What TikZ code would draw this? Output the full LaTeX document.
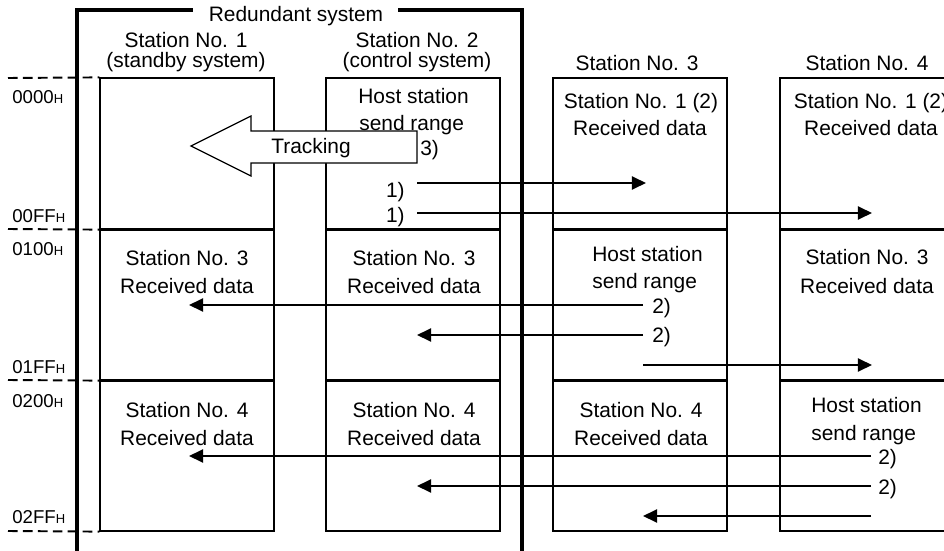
\documentclass[tikz,border=0pt]{standalone}
\usepackage{fontspec}
\setmainfont{Liberation Sans}
\usetikzlibrary{arrows.meta}
\newcommand\hexH{{\fontsize{7.4}{8}\selectfont H}}
\begin{document}
\begin{tikzpicture}[x=0.02cm,y=-0.02cm,
 cell/.style={draw,line width=0.7pt,rectangle,inner sep=0pt,minimum width=3.48cm,minimum height=3.02cm},
 sepline/.style={line width=1.2pt},
 framel/.style={line width=2.4pt},
 dashln/.style={line width=1.1pt,dash pattern=on 5.5pt off 3pt},
 txt/.style={inner sep=0pt,anchor=base,font=\fontsize{11.9}{14}\selectfont},
 ltxt/.style={txt,anchor=base west},
 rtxt/.style={txt,anchor=base east},
 hex/.style={inner sep=0pt,anchor=base west,font=\fontsize{10.6}{12}\selectfont},
 arr/.style={line width=1.2pt,-{Triangle[length=8pt,width=7.4pt]}},
 track/.style={draw,fill=white,line width=0.7pt}]
\useasboundingbox (0,0) rectangle (944,551);
\clip (0,0) rectangle (944,551);

% cells
\node[cell] (c11) at (187,153.5) {};
\node[cell] (c12) at (187,304.5) {};
\node[cell] (c13) at (187,455.5) {};
\node[cell] (c21) at (413,153.5) {};
\node[cell] (c22) at (413,304.5) {};
\node[cell] (c23) at (413,455.5) {};
\node[cell] (c31) at (640,153.5) {};
\node[cell] (c32) at (640,304.5) {};
\node[cell] (c33) at (640,455.5) {};
\node[cell] (c41) at (867,153.5) {};
\node[cell] (c42) at (867,304.5) {};
\node[cell] (c43) at (867,455.5) {};
\foreach \c in {c11,c12,c21,c22,c31,c32,c41,c42}
  \draw[sepline] (\c.south west) -- (\c.south east);

% dashed address lines
\coordinate (d0) at (8,78);
\coordinate (d1) at (8,229);
\coordinate (d2) at (8,380);
\coordinate (d3) at (8,531);
\draw[dashln] (d0) -- (c11.north west);
\draw[dashln] (d1) -- (c11.south west);
\draw[dashln] (d2) -- (c12.south west);
\draw[dashln] (d3) -- (c13.south west);

% redundant system frame
\node[txt] (red) at (296,21) {Redundant system};
\coordinate (fbl) at (77,560);
\coordinate (fgl) at (193,10);
\coordinate (fgr) at (398,10);
\coordinate (fbr) at (522,560);
\draw[framel] (fbl) |- (fgl);
\draw[framel] (fgr) -| (fbr);

% address labels
\node[hex] (h0) at (12,103) {0000\hexH};
\node[hex] (h1) at (12,222) {00FF\hexH};
\node[hex] (h2) at (12,255) {0100\hexH};
\node[hex] (h3) at (12,373) {01FF\hexH};
\node[hex] (h4) at (12,407) {0200\hexH};
\node[hex] (h5) at (12,523) {02FF\hexH};

% headers
\node[txt] (t1a) at (186,48) {Station No. 1};
\node[txt] (t1b) at (186,68) {(standby system)};
\node[txt] (t2a) at (417,48) {Station No. 2};
\node[txt] (t2b) at (417,68) {(control system)};
\node[txt] (t3) at (637,71) {Station No. 3};
\node[txt] (t4) at (867,71) {Station No. 4};

% tracking arrow
\draw[track] (191,146) -- (251,116) -- (251,131) -- (417,131) -- (417,163) -- (251,163) -- (251,176) -- cycle;
\node[txt] (trk) at (311,153) {Tracking};

% row 1 texts
\node[ltxt] (h21a) at (358,103) {Host station};
\node[ltxt] (h21b) at (359,130) {send range};
\node[ltxt] (n3) at (420,155) {3)};
\node[rtxt] (n1a) at (405,197) {1)};
\node[rtxt] (n1b) at (405,222) {1)};
\node[txt] (r31a) at (641,108) {Station No. 1 (2)};
\node[txt] (r31b) at (640,135) {Received data};
\node[txt] (r41a) at (871,108) {Station No. 1 (2)};
\node[txt] (r41b) at (871,135) {Received data};

% row 2 texts
\node[txt] (r12a) at (187,265) {Station No. 3};
\node[txt] (r12b) at (187,293) {Received data};
\node[txt] (r22a) at (414,265) {Station No. 3};
\node[txt] (r22b) at (414,293) {Received data};
\node[ltxt] (h32a) at (592,261) {Host station};
\node[ltxt] (h32b) at (592,288) {send range};
\node[ltxt] (n2a) at (652,313) {2)};
\node[ltxt] (n2b) at (652,342) {2)};
\node[txt] (r42a) at (867,264) {Station No. 3};
\node[txt] (r42b) at (867,293) {Received data};

% row 3 texts
\node[txt] (r13a) at (187,417) {Station No. 4};
\node[txt] (r13b) at (187,445) {Received data};
\node[txt] (r23a) at (414,417) {Station No. 4};
\node[txt] (r23b) at (414,445) {Received data};
\node[txt] (r33a) at (641,417) {Station No. 4};
\node[txt] (r33b) at (641,445) {Received data};
\node[ltxt] (h43a) at (811,412) {Host station};
\node[ltxt] (h43b) at (811,440) {send range};
\node[ltxt] (n3a) at (878,464) {2)};
\node[ltxt] (n3b) at (878,494) {2)};

% arrows
\coordinate (a1s) at (417,183); \coordinate (a1e) at (646,183);
\coordinate (a2s) at (417,213); \coordinate (a2e) at (872,213);
\coordinate (b1s) at (643,305); \coordinate (b1e) at (189,305);
\coordinate (b2s) at (643,335); \coordinate (b2e) at (417,335);
\coordinate (b3s) at (643,365); \coordinate (b3e) at (872,365);
\coordinate (e1s) at (871,456); \coordinate (e1e) at (189,456);
\coordinate (e2s) at (871,486); \coordinate (e2e) at (417,486);
\coordinate (e3s) at (871,516); \coordinate (e3e) at (643,516);
\draw[arr] (a1s) -- (a1e);
\draw[arr] (a2s) -- (a2e);
\draw[arr] (b1s) -- (b1e);
\draw[arr] (b2s) -- (b2e);
\draw[arr] (b3s) -- (b3e);
\draw[arr] (e1s) -- (e1e);
\draw[arr] (e2s) -- (e2e);
\draw[arr] (e3s) -- (e3e);
\end{tikzpicture}
\end{document}
